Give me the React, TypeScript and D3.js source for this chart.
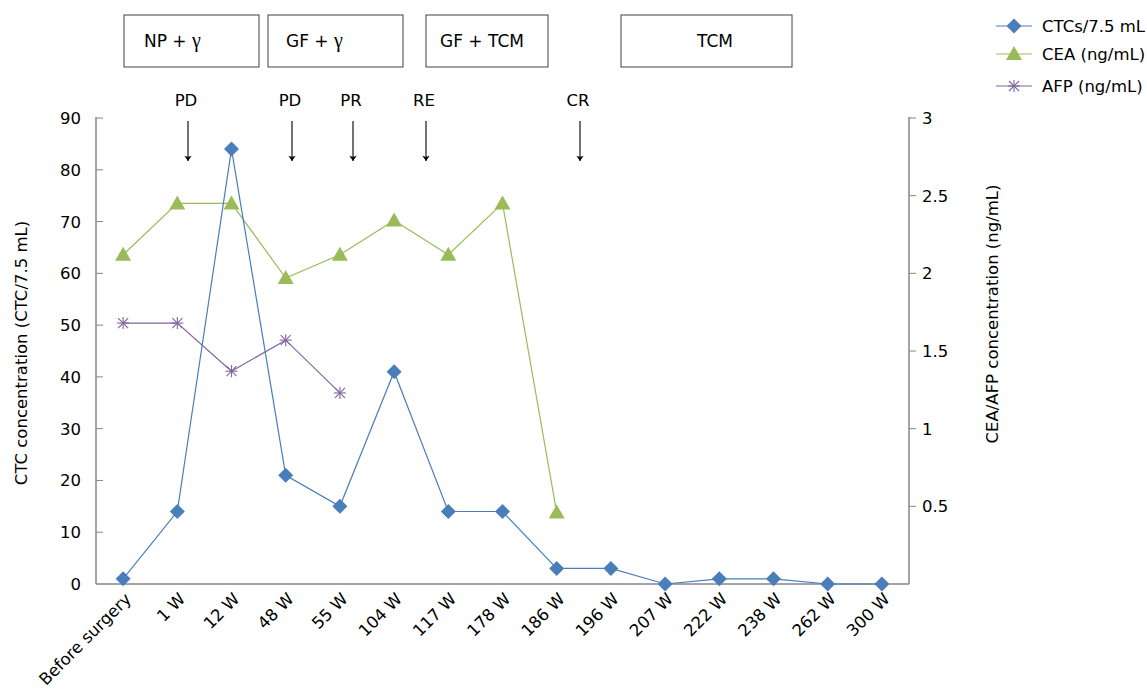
import React from "react";
import * as d3 from "d3";

const categories = [
  "Before surgery", "1 W", "12 W", "48 W", "55 W", "104 W", "117 W", "178 W",
  "186 W", "196 W", "207 W", "222 W", "238 W", "262 W", "300 W",
];
const ctcValues = [1, 14, 84, 21, 15, 41, 14, 14, 3, 3, 0, 1, 1, 0, 0];
const ceaValues = [2.12, 2.45, 2.45, 1.97, 2.12, 2.34, 2.12, 2.45, 0.46];
const afpValues = [1.68, 1.68, 1.37, 1.57, 1.23];
const leftTicks = [0, 10, 20, 30, 40, 50, 60, 70, 80, 90];
const rightTicks = [0.5, 1, 1.5, 2, 2.5, 3];

const treatments = ["NP + γ", "GF + γ", "GF + TCM", "TCM"];
const responses = ["PD", "PD", "PR", "RE", "CR"];

// annotation layout (pixels)
const boxX = [[124, 259], [268, 403], [426, 548], [621, 792]];
const boxTextX = [144, 286, 440, 697];
const arrowX = [188, 292, 353, 426, 580];

const W = 1147, H = 693;
const left = 96, right = 909, top = 118, bottom = 584;
const font = "'DejaVu Sans', Verdana, sans-serif";

const BLUE = "#4a7ebb";
const GREEN = "#9bbb59";
const PURPLE = "#8064a2";
const AXIS = "#868686";

const Diamond = ({ x, y }: { x: number; y: number }) => (
  <path d={`M${x},${y - 7.5}L${x + 7.5},${y}L${x},${y + 7.5}L${x - 7.5},${y}Z`} fill={BLUE} />
);
const Tri = ({ x, y }: { x: number; y: number }) => (
  <path d={`M${x},${y - 8}L${x + 8},${y + 6}L${x - 8},${y + 6}Z`} fill={GREEN} />
);
const Star = ({ x, y }: { x: number; y: number }) => (
  <g stroke={PURPLE} strokeWidth={1.1}>
    <line x1={x - 6} y1={y} x2={x + 6} y2={y} />
    <line x1={x} y1={y - 6} x2={x} y2={y + 6} />
    <line x1={x - 5} y1={y - 5} x2={x + 5} y2={y + 5} />
    <line x1={x - 5} y1={y + 5} x2={x + 5} y2={y - 5} />
  </g>
);

function Label({ text, x, y }: { text: string; x: number; y: number }) {
  // render γ in a serif face like the original
  const parts = text.split("γ");
  return (
    <text x={x} y={y} fontFamily={font} fontSize={17} fill="#000">
      {parts[0]}
      {parts.length > 1 && <tspan fontFamily="'Liberation Serif', serif" fontSize={20}>γ</tspan>}
      {parts.length > 1 && parts[1]}
    </text>
  );
}

export default function App() {
  const x = d3.scaleBand<string>().domain(categories).range([left, right]).padding(0);
  const cx = (c: string) => (x(c) as number) + x.bandwidth() / 2;
  const yL = d3.scaleLinear().domain([0, 90]).range([bottom, top]);
  const yR = d3.scaleLinear().domain([0, 3]).range([bottom, top]);

  const ctcPts = ctcValues.map((v, i) => [cx(categories[i]), yL(v)] as [number, number]);
  const ceaPts = ceaValues.map((v, i) => [cx(categories[i]), yR(v)] as [number, number]);
  const afpPts = afpValues.map((v, i) => [cx(categories[i]), yR(v)] as [number, number]);
  const line = d3.line();

  return (
    <svg width={W} height={H} style={{ position: "absolute", left: 0, top: 0, background: "#fff" }}>
      {/* treatment boxes */}
      {treatments.map((t, i) => {
        const [x0, x1] = boxX[i];
        return (
          <g key={t}>
            <rect x={x0} y={15} width={x1 - x0} height={52} fill="#fff" stroke="#404040" strokeWidth={1} />
            <Label text={t} x={boxTextX[i]} y={47} />
          </g>
        );
      })}

      {/* response arrows */}
      <defs>
        <marker id="ah" viewBox="0 0 8 12" refX={8} refY={6} markerUnits="userSpaceOnUse"
          markerWidth={11} markerHeight={8} orient="auto">
          <path d="M0,0.5L8,6L0,11.5L2,6Z" fill="#000" />
        </marker>
      </defs>
      {responses.map((r, i) => (
        <g key={i}>
          <text x={arrowX[i] - 2} y={106} textAnchor="middle" fontFamily={font} fontSize={16.5}>{r}</text>
          <line x1={arrowX[i]} y1={121} x2={arrowX[i]} y2={161} stroke="#000" strokeWidth={1.1} markerEnd="url(#ah)" />
        </g>
      ))}

      {/* axes */}
      <line x1={left} y1={top - 1} x2={left} y2={bottom} stroke={AXIS} strokeWidth={1.5} />
      <line x1={right} y1={top - 1} x2={right} y2={bottom} stroke={AXIS} strokeWidth={1.5} />
      <line x1={left} y1={bottom} x2={right} y2={bottom} stroke={AXIS} strokeWidth={1.5} />
      {leftTicks.map((t) => (
        <g key={t}>
          {t > 0 && <line x1={left} x2={left + 7} y1={yL(t)} y2={yL(t)} stroke={AXIS} />}
          <text x={81} y={yL(t) + 6} textAnchor="end" fontFamily={font} fontSize={16.5}>{t}</text>
        </g>
      ))}
      {rightTicks.map((t) => (
        <g key={t}>
          <line x1={right} x2={right + 7} y1={yR(t)} y2={yR(t)} stroke={AXIS} />
          <text x={922} y={yR(t) + 6} fontFamily={font} fontSize={16.5}>{t}</text>
        </g>
      ))}
      {categories.map((c) => (
        <text key={c} transform={`translate(${cx(c) + 9},${600}) rotate(-45)`} textAnchor="end"
          fontFamily={font} fontSize={16.5}>{c}</text>
      ))}
      <text transform={`translate(27,${(top + bottom) / 2 + 2}) rotate(-90)`} textAnchor="middle"
        fontFamily={font} fontSize={16.5}>CTC concentration (CTC/7.5 mL)</text>
      <text transform={`translate(998,314) rotate(-90)`} textAnchor="middle"
        fontFamily={font} fontSize={16.5}>CEA/AFP concentration (ng/mL)</text>

      {/* series */}
      <path d={line(afpPts) ?? ""} fill="none" stroke={PURPLE} strokeWidth={1.2} />
      <path d={line(ceaPts) ?? ""} fill="none" stroke={GREEN} strokeWidth={1.2} />
      <path d={line(ctcPts) ?? ""} fill="none" stroke={BLUE} strokeWidth={1.2} />
      {afpPts.map(([px, py], i) => <Star key={i} x={px} y={py} />)}
      {ceaPts.map(([px, py], i) => <Tri key={i} x={px} y={py} />)}
      {ctcPts.map(([px, py], i) => <Diamond key={i} x={px} y={py} />)}

      {/* legend */}
      {[
        { name: "CTCs/7.5 mL", color: BLUE, y: 26, M: Diamond },
        { name: "CEA (ng/mL)", color: GREEN, y: 54, M: Tri },
        { name: "AFP (ng/mL)", color: PURPLE, y: 86, M: Star },
      ].map(({ name, color, y, M }) => (
        <g key={name}>
          <line x1={996} x2={1032} y1={y} y2={y} stroke={color} strokeWidth={1.2} />
          <M x={1014} y={y} />
          <text x={1042} y={y + 6} fontFamily={font} fontSize={16.5}>{name}</text>
        </g>
      ))}
    </svg>
  );
}
